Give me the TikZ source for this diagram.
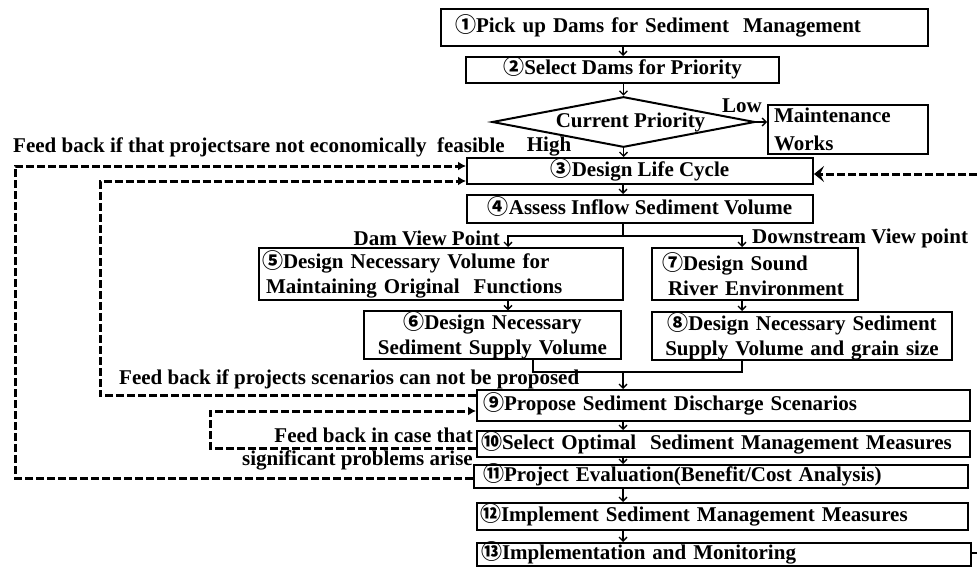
\documentclass[tikz,border=0pt]{standalone}
\usepackage{fontspec}
\setmainfont{Liberation Serif}
\newfontfamily\cjk{Noto Sans CJK JP}
\usetikzlibrary{shapes.geometric,arrows.meta,calc,positioning}
\newcommand{\cnum}[1]{{\cjk #1}}
\newcommand{\figfont}{\fontsize{21}{25}\selectfont\bfseries}

\begin{document}
\begin{tikzpicture}[x=1pt,y=-1pt,
    every node/.style={font=\figfont},
    box/.style={draw, line width=2pt, inner ysep=0pt, inner xsep=4pt},
    one/.style={box, text height=15pt, text depth=5pt},
    lbl/.style={inner sep=0pt},
    line/.style={line width=1.3pt},
    arr/.style={line width=1.3pt, -{Straight Barb[length=4pt,width=8pt]}},
    fb/.style={line width=3pt, dash pattern=on 8pt off 3pt, -{Latex[length=8pt,width=9pt]}},
    fbr/.style={line width=3pt, dash pattern=on 8pt off 3pt, -{Stealth[length=10pt,width=16pt,inset=4pt]}}]
    \useasboundingbox (0,0) rectangle (977,567);

    \node[one, minimum height=37pt, text width=459pt, inner xsep=14pt, align=left] (n1) at (684.5,27.5) {\cnum{①}Pick up Dams for Sediment\ \ Management};
    \node[one, minimum width=313pt, minimum height=26pt] (n2) at (622.5,70) {\cnum{②}Select Dams for Priority};
    \node[draw, line width=2pt, diamond, inner sep=0pt, shape aspect=5.2, minimum width=259pt, minimum height=50pt] (dia) at (623.5,122) {\hspace*{14pt}Current Priority};
    \node[box, minimum height=49pt, text width=148pt, inner xsep=6pt, align=left] (maint) at (848,129.5) {Maintenance\\[3pt]Works};
    \node[one, minimum width=346pt, minimum height=26pt] (n3) at (640,171) {\cnum{③}Design Life Cycle};
    \node[one, minimum width=346pt, minimum height=28pt] (n4) at (640,209) {\cnum{④}Assess Inflow Sediment Volume};
    \node[box, minimum height=52pt, text width=358pt, inner xsep=3pt, align=left] (n5) at (441,274) {\cnum{⑤}Design Necessary Volume for\\\hspace*{4pt}Maintaining Original\ \ Functions};
    \node[box, minimum height=46pt, text width=249pt, align=center] (n6) at (492.5,335) {\cnum{⑥}Design Necessary\\Sediment Supply Volume};
    \node[box, minimum height=52pt, text width=186pt, inner xsep=10pt, align=left] (n7) at (755,274) {\cnum{⑦}Design Sound\\\hspace*{6pt}River Environment};
    \node[box, minimum height=48pt, text width=292pt, align=center] (n8) at (802,336) {\cnum{⑧}Design Necessary Sediment\\Supply Volume and grain size};
    \node[one, minimum height=31pt, text width=481pt, inner xsep=6pt, align=left] (n9) at (723.5,405.5) {\cnum{⑨}Propose Sediment Discharge Scenarios};
    \node[one, minimum height=26pt, text width=485pt, inner xsep=4pt, align=left] (n10) at (723.5,444) {\cnum{⑩}Select Optimal\ \ Sediment Management Measures};
    \node[one, minimum height=23pt, text width=476pt, inner xsep=9pt, align=left] (n11) at (721,476.5) {\cnum{⑪}Project Evaluation(Benefit/Cost Analysis)};
    \node[one, minimum height=27pt, text width=485pt, inner xsep=3pt, align=left] (n12) at (722.5,516.5) {\cnum{⑫}Implement Sediment Management Measures};
    \node[one, minimum height=23pt, text width=486pt, inner xsep=4pt, align=left] (n13) at (724,554.5) {\cnum{⑬}Implementation and Monitoring};

    \node[lbl] (low) at (742,106) {Low};
    \node[lbl] (high) at (549,147) {High};
    \node[lbl, anchor=west] (fbtop) at (13,147) {Feed back if that projectsare not economically\ \ feasible};
    \node[lbl, anchor=east] (damvp) at (500,238) {Dam View Point};
    \node[lbl, anchor=west] (downvp) at (752,238) {Downstream View point};
    \node[lbl, anchor=west] (fbscen) at (119,379) {Feed back if projects scenarios can not be proposed};
    \node[lbl, anchor=east] (fbcase) at (473,435) {Feed back in case that};
    \node[lbl, anchor=east] (fbsig) at (473,460) {significant problems arise};

    \coordinate (axis) at (623,0);
    \coordinate (split) at (623,236);
    \coordinate (dv) at (508,236);
    \coordinate (ds) at (742,236);
    \coordinate (mg) at (623,372);
    \coordinate (m6) at (533,372);
    \coordinate (ca) at (100,300);
    \coordinate (cb) at (15,300);
    \coordinate (cc) at (210,430);
    \coordinate (back) at (977,174);
    \coordinate (rim) at (977,553);

    \draw[arr] (n1.south -| axis) -- (n2.north -| axis);
    \draw[arr] (n2.south -| dia.north) -- (dia.north);
    \draw[arr] (dia.east) -- (maint.west |- dia.east);
    \draw[arr] (dia.south) -- (n3.north -| dia.south);
    \draw[arr] (n3.south -| axis) -- (n4.north -| axis);
    \draw[line] (n4.south -| axis) -- (split);
    \draw[arr] (split) -| (dv |- n5.north);
    \draw[arr] (split) -| (ds |- n7.north);
    \draw[arr] (dv |- n5.south) -- (dv |- n6.north);
    \draw[arr] (ds |- n7.south) -- (ds |- n8.north);
    \draw[line] (m6 |- n6.south) -- (m6) -- (ds |- mg) -- (ds |- n8.south);
    \draw[arr] (mg) -- (mg |- n9.north);
    \draw[arr] (n9.south -| axis) -- (n10.north -| axis);
    \draw[arr] (n10.south -| axis) -- (n11.north -| axis);
    \draw[arr] (n11.south -| axis) -- (n12.north -| axis);
    \draw[arr] (n12.south -| axis) -- (n13.north -| axis);
    \draw[line] (n13.east |- rim) -- (rim);

    \draw[fbr] (back) -- (n3.east |- back);
    \draw[fb] ([yshift=10pt]n9.west) -| (ca) |- ([yshift=-10pt]n3.west);
    \draw[fb] ([yshift=-1.5pt]n11.west) -| (cb) |- ([yshift=5pt]n3.west);
    \draw[fb] ([yshift=-4pt]n10.west) -| (cc) |- ([yshift=-5.5pt]n9.west);
\end{tikzpicture}
\end{document}
